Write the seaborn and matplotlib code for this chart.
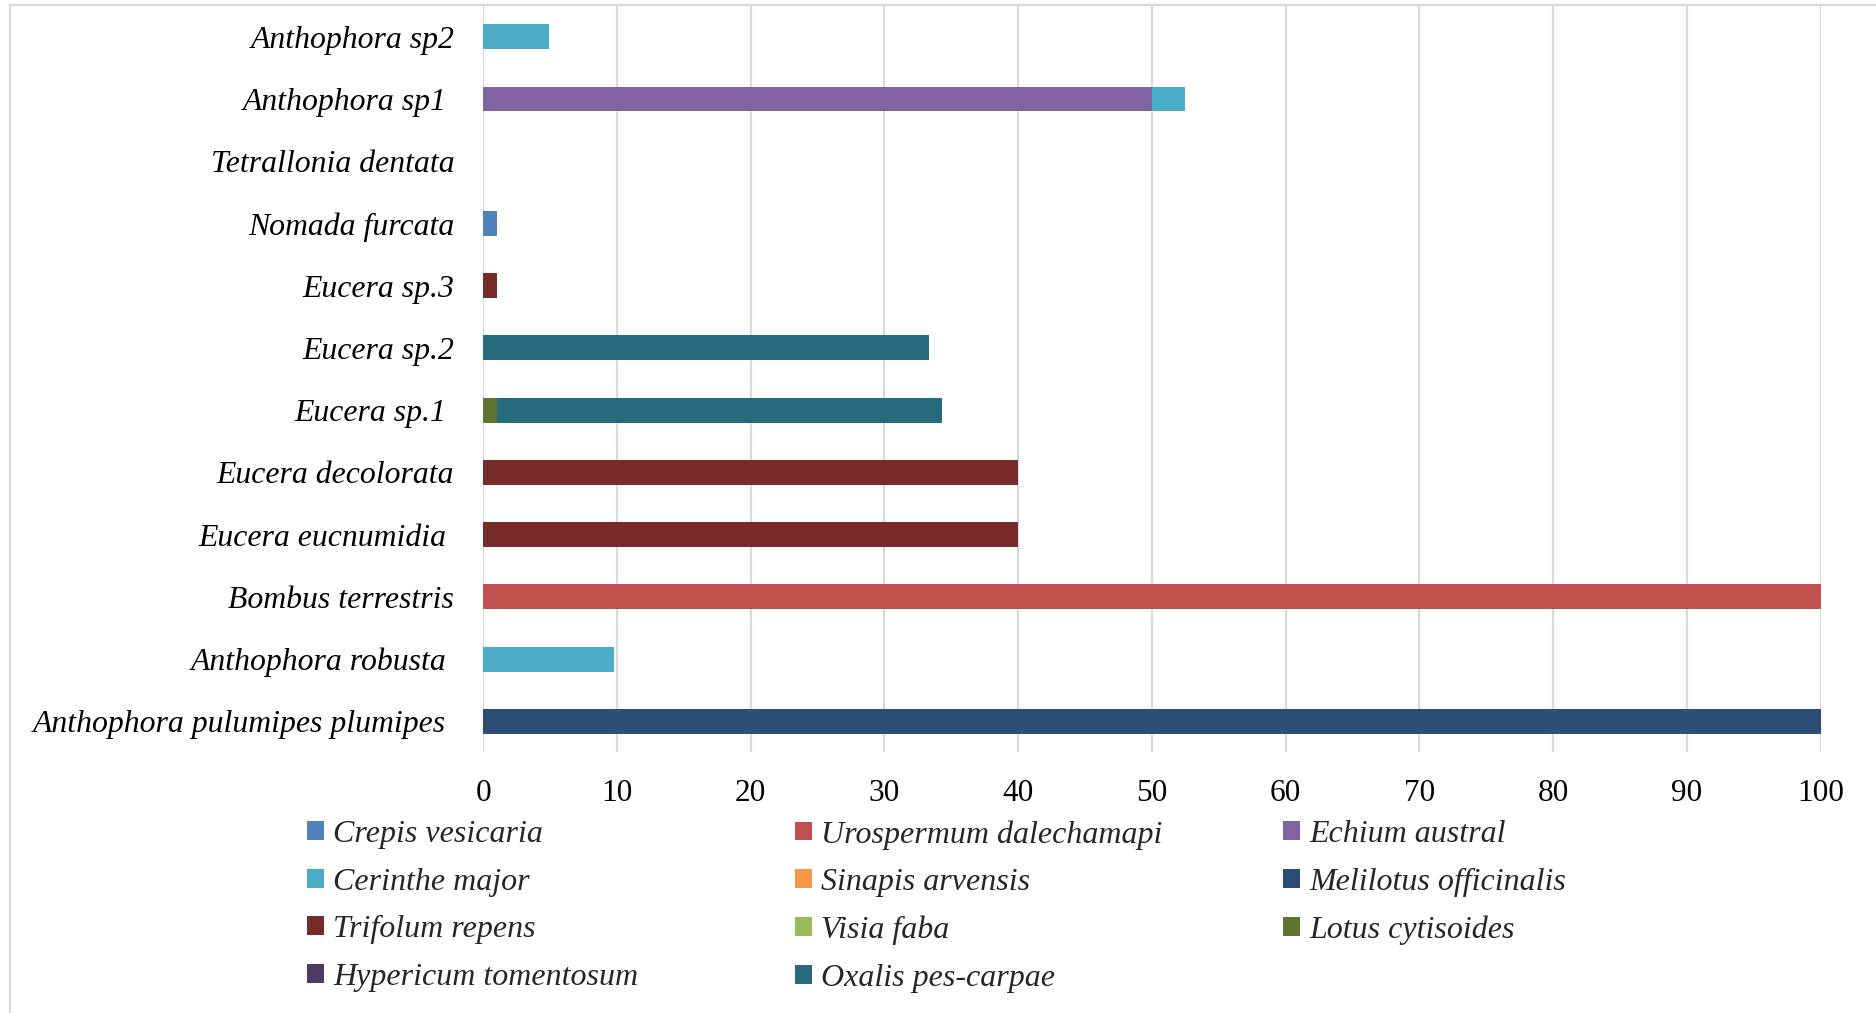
import numpy as np
import pandas as pd
import matplotlib
matplotlib.use("Agg")
import matplotlib.pyplot as plt
from matplotlib.lines import Line2D
from matplotlib.patches import Patch
import seaborn as sns

species = ["Anthophora sp2", "Anthophora sp1 ", "Tetrallonia dentata", "Nomada furcata",
           "Eucera sp.3", "Eucera sp.2", "Eucera sp.1 ", "Eucera decolorata",
           "Eucera eucnumidia ", "Bombus terrestris", "Anthophora robusta ",
           "Anthophora pulumipes plumipes "]

plants = ["Crepis vesicaria", "Urospermum dalechamapi", "Echium austral",
          "Cerinthe major", "Sinapis arvensis", "Melilotus officinalis",
          "Trifolum repens", "Visia faba", "Lotus cytisoides",
          "Hypericum tomentosum", "Oxalis pes-carpae"]

crepis     = [0, 0, 0, 1, 0, 0, 0, 0, 0, 0, 0, 0]
urospermum = [0, 0, 0, 0, 0, 0, 0, 0, 0, 100, 0, 0]
echium     = [0, 50, 0, 0, 0, 0, 0, 0, 0, 0.2, 0, 0]
cerinthe   = [4.9, 2.5, 0, 0, 0, 0, 0, 0, 0, 0, 9.8, 0]
sinapis    = [0, 0, 0, 0, 0, 0, 0, 0, 0, 0, 0, 0]
melilotus  = [0, 0, 0, 0, 0, 0, 0, 0, 0, 0, 0, 100]
trifolum   = [0, 0, 0, 0, 1, 0, 0, 40, 40, 0, 0, 0]
visia      = [0, 0, 0, 0, 0, 0, 0, 0, 0, 0, 0, 0]
lotus      = [0, 0, 0, 0, 0, 0, 1, 0, 0, 0, 0, 0]
hypericum  = [0, 0, 0, 0, 0, 0, 0, 0, 0, 0, 0, 0.2]
oxalis     = [0, 0, 0, 0, 0, 33.3, 33.3, 0, 0, 0, 0, 0]

series = [crepis, urospermum, echium, cerinthe, sinapis, melilotus,
          trifolum, visia, lotus, hypericum, oxalis]
colors = ["#4F81BD", "#C0504D", "#8064A2", "#4BACC6", "#F79646", "#2C4D75",
          "#772C2A", "#9BBB59", "#5F7530", "#4D3B62", "#276A7C"]

sns.set_theme(style="white")
plt.rcParams["font.family"] = ["Liberation Serif", "DejaVu Serif"]

W, H = 1876, 1013
fig = plt.figure(figsize=(W / 100, H / 100), dpi=100)
ax = fig.add_axes([483.3 / W, 1 - 752.4 / H, (1820.5 - 483.3) / W, (752.4 - 5.7) / H])

cum = np.cumsum(np.array(series, dtype=float), axis=0)
for i in range(len(plants) - 1, -1, -1):
    df = pd.DataFrame({"species": species, "value": cum[i]})
    sns.barplot(data=df, x="value", y="species", orient="h", color=colors[i],
                saturation=1, width=0.4, order=species, ax=ax,
                edgecolor="none", linewidth=0, errorbar=None, zorder=3)

ax.set_xlim(0, 100)
ax.set_ylim(len(species) - 0.5, -0.5)
ax.set_xticks(np.arange(0, 101, 10))
ax.set_xlabel("")
ax.set_ylabel("")
ax.grid(axis="x", color="#D9D9D9", linewidth=1.6, zorder=0)
ax.grid(axis="y", visible=False)
ax.set_axisbelow(True)
for s in ax.spines.values():
    s.set_visible(False)
ax.tick_params(axis="both", length=0)
ax.tick_params(axis="y", pad=21)
ax.tick_params(axis="x", pad=19)
for lab in ax.get_yticklabels():
    lab.set_fontstyle("italic")
    lab.set_fontsize(22.9)
    lab.set_color("black")
for lab in ax.get_xticklabels():
    lab.set_fontsize(22.5)
    lab.set_color("black")

# legend in three columns (row-major order as in the reference)
col_x = [307, 795, 1283]
for c in range(3):
    idx = list(range(c, len(plants), 3))
    handles = [Patch(facecolor=colors[k], edgecolor="none") for k in idx]
    labels = [plants[k] for k in idx]
    fig.legend(handles, labels, loc="upper left",
               bbox_to_anchor=(col_x[c] / W, 1 - 820 / H),
               frameon=False, borderpad=0, borderaxespad=0,
               handlelength=0.52, handleheight=0.52, handletextpad=0.3,
               labelspacing=0.58, prop={"family": "Liberation Serif", "style": "italic", "size": 23})

# chart-area border (left and top edges visible)
fig.add_artist(Line2D([10 / W, 10 / W], [0, 1 - 5.5 / H], transform=fig.transFigure,
                      color="#D9D9D9", linewidth=1.6))
fig.add_artist(Line2D([10 / W, 1], [1 - 5.5 / H, 1 - 5.5 / H], transform=fig.transFigure,
                      color="#D9D9D9", linewidth=1.6))

fig.savefig("out.png", dpi=100, facecolor="white")
